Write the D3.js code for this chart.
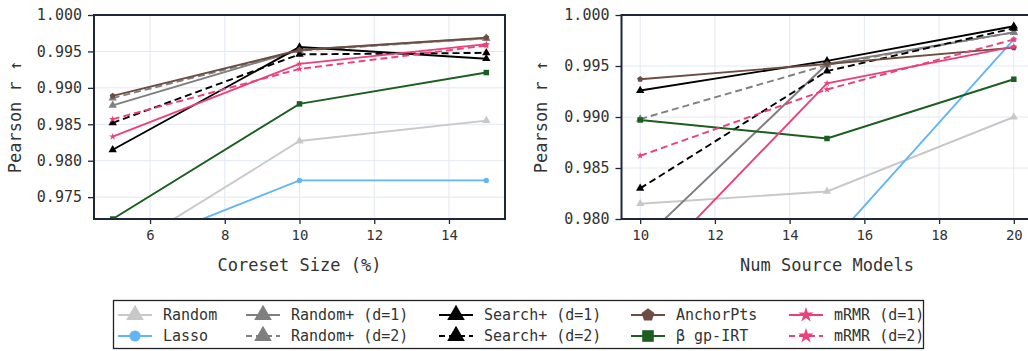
<!DOCTYPE html>
<html>
<head>
<meta charset="utf-8">
<script src="https://d3js.org/d3.v7.min.js"></script>
<style>
  body { margin: 0; background: #fff; }
  svg { display: block; font-family: "DejaVu Sans Mono", monospace; }
</style>
</head>
<body>
<svg></svg>
<script>
// x values of the two panels
var coresetSizes = [5, 10, 15];
var sourceCounts = [10, 15, 20];

// left panel: Pearson r vs coreset size (%)
var coresetRandom   = [0.9668, 0.9827, 0.9855];
var coresetLasso    = [0.9671, 0.9773, 0.9773];
var coresetRandP1   = [0.9876, 0.9952, 0.9968];
var coresetRandP2   = [0.9886, 0.9951, 0.9968];
var coresetSearch1  = [0.9815, 0.9956, 0.9940];
var coresetSearch2  = [0.9852, 0.9946, 0.9948];
var coresetAnchor   = [0.9889, 0.9952, 0.9969];
var coresetGpIrt    = [0.9720, 0.9878, 0.9921];
var coresetMrmr1    = [0.9833, 0.9933, 0.9960];
var coresetMrmr2    = [0.9857, 0.9926, 0.9958];

// right panel: Pearson r vs number of source models
var sourceRandom    = [0.9815, 0.9827, 0.9900];
var sourceLasso     = [0.9670, 0.9772, 0.9976];
var sourceRandP1    = [0.9777, 0.9952, 0.9983];
var sourceRandP2    = [0.9898, 0.9951, 0.9983];
var sourceSearch1   = [0.9926, 0.9955, 0.9989];
var sourceSearch2   = [0.9830, 0.9945, 0.9987];
var sourceAnchor    = [0.9937, 0.9952, 0.9968];
var sourceGpIrt     = [0.9897, 0.9879, 0.9937];
var sourceMrmr1     = [0.9743, 0.9933, 0.9969];
var sourceMrmr2     = [0.9862, 0.9927, 0.9976];

var methodNames = ["Random", "Lasso", "Random+ (d=1)", "Random+ (d=2)", "Search+ (d=1)",
                   "Search+ (d=2)", "AnchorPts", "\u03b2 gp-IRT", "mRMR (d=1)", "mRMR (d=2)"];
var coresetValues = [coresetRandom, coresetLasso, coresetRandP1, coresetRandP2, coresetSearch1,
                     coresetSearch2, coresetAnchor, coresetGpIrt, coresetMrmr1, coresetMrmr2];
var sourceValues = [sourceRandom, sourceLasso, sourceRandP1, sourceRandP2, sourceSearch1,
                    sourceSearch2, sourceAnchor, sourceGpIrt, sourceMrmr1, sourceMrmr2];

var coresetTicks = [6, 8, 10, 12, 14];
var sourceTicks = [10, 12, 14, 16, 18, 20];
var coresetYTicks = [0.975, 0.980, 0.985, 0.990, 0.995, 1.000];
var sourceYTicks = [0.980, 0.985, 0.990, 0.995, 1.000];

// pentagon marker like matplotlib "p"
var symbolPentagon = {
  draw: function(ctx, size) {
    var r = Math.sqrt(size / 2.378);
    for (var i = 0; i < 5; i++) {
      var a = -Math.PI / 2 + i * 2 * Math.PI / 5;
      if (i == 0) ctx.moveTo(r * Math.cos(a), r * Math.sin(a));
      else ctx.lineTo(r * Math.cos(a), r * Math.sin(a));
    }
    ctx.closePath();
  }
};

// styles, one per method
var styles = [
  {color: "#c8c8c8", dash: null,  sym: d3.symbolTriangle, size: 30},
  {color: "#64b5f6", dash: null,  sym: d3.symbolCircle,   size: 22},
  {color: "#7f7f7f", dash: null,  sym: d3.symbolTriangle, size: 30},
  {color: "#7f7f7f", dash: "7,4", sym: d3.symbolTriangle, size: 30},
  {color: "#000000", dash: null,  sym: d3.symbolTriangle, size: 30},
  {color: "#000000", dash: "7,4", sym: d3.symbolTriangle, size: 30},
  {color: "#6d4c41", dash: null,  sym: symbolPentagon,    size: 24},
  {color: "#1b5e20", dash: null,  sym: d3.symbolSquare,   size: 30},
  {color: "#ec407a", dash: null,  sym: d3.symbolStar,     size: 16},
  {color: "#ec407a", dash: "7,4", sym: d3.symbolStar,     size: 16}
];

var width = 1028, height = 351;
var plotTop = 15, plotBottom = 219;
var axisColor = "#1e2838";
var gridColor = "#e2e8f0";

var svg = d3.select("svg").attr("width", width).attr("height", height);

function drawPanel(id, xs, values, xDomain, xRange, yDomain, xTicks, yTicks, yLabelX, xLabel) {
  var x = d3.scaleLinear().domain(xDomain).range(xRange);
  var y = d3.scaleLinear().domain(yDomain).range([plotBottom, plotTop]);
  var g = svg.append("g");

  g.append("clipPath").attr("id", id)
    .append("rect").attr("x", xRange[0]).attr("y", plotTop)
    .attr("width", xRange[1] - xRange[0]).attr("height", plotBottom - plotTop);

  // grid
  g.selectAll(".vg").data(xTicks).enter().append("line")
    .attr("x1", function(d) { return x(d); }).attr("x2", function(d) { return x(d); })
    .attr("y1", plotTop).attr("y2", plotBottom)
    .attr("stroke", gridColor).attr("stroke-width", 1);
  g.selectAll(".hg").data(yTicks).enter().append("line")
    .attr("x1", xRange[0]).attr("x2", xRange[1])
    .attr("y1", function(d) { return y(d); }).attr("y2", function(d) { return y(d); })
    .attr("stroke", gridColor).attr("stroke-width", 1);

  var plot = g.append("g").attr("clip-path", "url(#" + id + ")");
  var line = d3.line()
    .x(function(d, i) { return x(xs[i]); })
    .y(function(d) { return y(d); });

  values.forEach(function(vals, k) {
    var s = styles[k];
    plot.append("path")
      .datum(vals)
      .attr("fill", "none")
      .attr("stroke", s.color)
      .attr("stroke-width", 1.9)
      .attr("stroke-dasharray", s.dash)
      .attr("d", line);
    plot.selectAll(null).data(vals).enter().append("path")
      .attr("transform", function(d, i) { return "translate(" + x(xs[i]) + "," + y(d) + ")"; })
      .attr("d", d3.symbol().type(s.sym).size(s.size))
      .attr("fill", s.color);
  });

  // axes
  var xAxis = g.append("g")
    .attr("transform", "translate(0," + plotBottom + ")")
    .call(d3.axisBottom(x).tickValues(xTicks).tickFormat(d3.format("d")).tickSize(5).tickPadding(6));
  var yAxis = g.append("g")
    .attr("transform", "translate(" + xRange[0] + ",0)")
    .call(d3.axisLeft(y).tickValues(yTicks).tickFormat(d3.format(".3f")).tickSize(6).tickPadding(6));
  [xAxis, yAxis].forEach(function(a) {
    a.select(".domain").remove();
    a.selectAll("line").attr("stroke", axisColor).attr("stroke-width", 1.3);
    a.selectAll("text").attr("fill", "#333").style("font-family", "DejaVu Sans Mono");
  });
  xAxis.selectAll("text").style("font-size", "14px");
  yAxis.selectAll("text").style("font-size", "15px");

  // frame
  g.append("rect").attr("x", xRange[0]).attr("y", plotTop)
    .attr("width", xRange[1] - xRange[0]).attr("height", plotBottom - plotTop)
    .attr("fill", "none").attr("stroke", axisColor).attr("stroke-width", 2);

  g.append("text")
    .attr("transform", "translate(" + yLabelX + "," + ((plotTop + plotBottom) / 2) + ") rotate(-90)")
    .attr("text-anchor", "middle").attr("dy", "0.35em")
    .attr("fill", "#333").style("font-size", "17px")
    .text("Pearson r \u2191");
  g.append("text")
    .attr("x", (xRange[0] + xRange[1]) / 2).attr("y", 271)
    .attr("text-anchor", "middle")
    .attr("fill", "#333").style("font-size", "17px")
    .text(xLabel);
}

drawPanel("clipL", coresetSizes, coresetValues, [4.5, 15.5], [94, 505],
          [0.972, 1.0], coresetTicks, coresetYTicks, 15, "Coreset Size (%)");
drawPanel("clipR", sourceCounts, sourceValues, [9.5, 20.5], [621.5, 1032.5],
          [0.980, 1.0], sourceTicks, sourceYTicks, 541, "Num Source Models");

// legend
var legend = svg.append("g");
legend.append("rect")
  .attr("x", 113.5).attr("y", 300.5).attr("width", 810).attr("height", 48)
  .attr("fill", "#fff").attr("stroke", "#222").attr("stroke-width", 1.3);

var colX = [118, 246, 439, 631, 789];
var rowY = [315, 336];
methodNames.forEach(function(name, k) {
  var s = styles[k];
  var cx = colX[Math.floor(k / 2)], cy = rowY[k % 2];
  legend.append("line")
    .attr("x1", cx).attr("x2", cx + 34).attr("y1", cy).attr("y2", cy)
    .attr("stroke", s.color).attr("stroke-width", 1.8)
    .attr("stroke-dasharray", s.dash ? "6,4" : null);
  legend.append("path")
    .attr("transform", "translate(" + (cx + 17) + "," + cy + ")")
    .attr("d", d3.symbol().type(s.sym).size(s.size * 4.5))
    .attr("fill", s.color);
  legend.append("text")
    .attr("x", cx + 45).attr("y", cy).attr("dy", "0.35em")
    .attr("fill", "#333").style("font-size", "15px")
    .text(name);
});
</script>
</body>
</html>
